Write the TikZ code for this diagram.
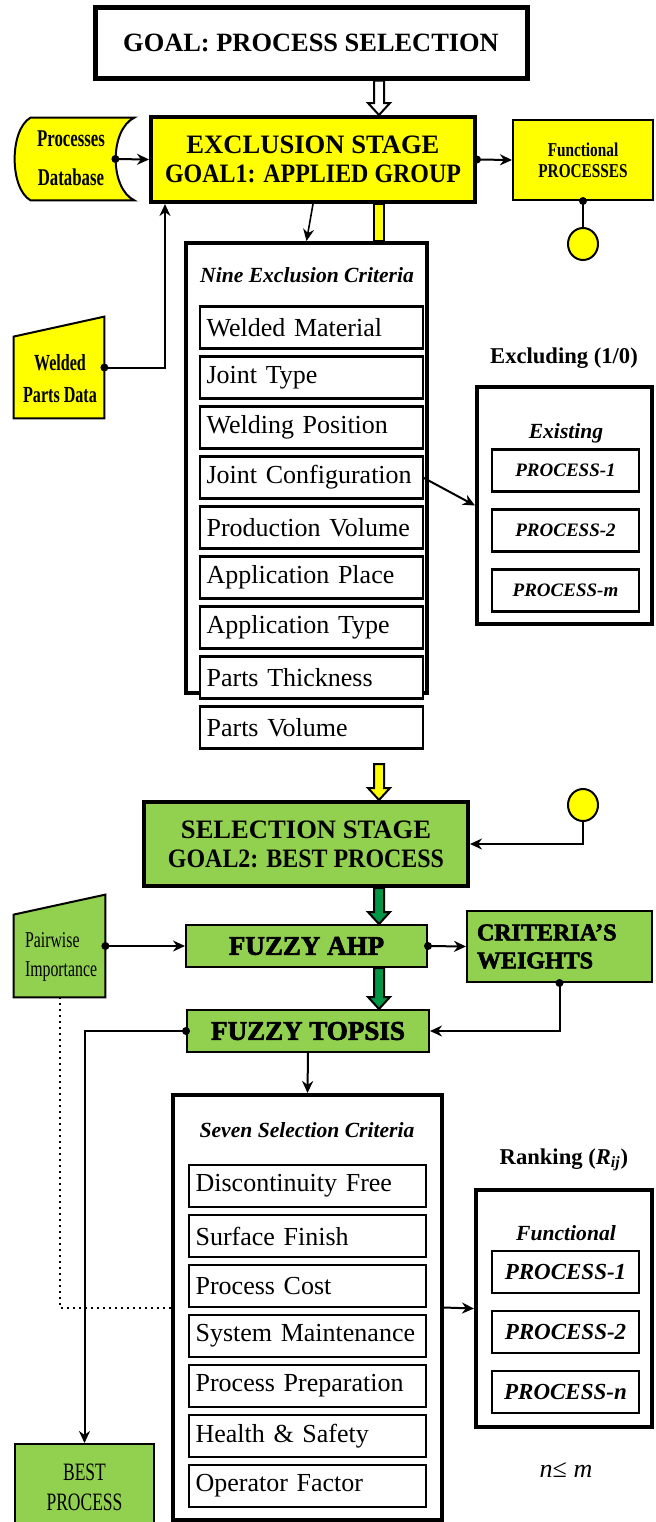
\documentclass[tikz,border=0pt]{standalone}
\usepackage{fontspec}
\setmainfont{Liberation Serif}
\newfontfamily\narrowfont[FakeStretch=0.78]{Liberation Serif}
\newfontfamily\tightfont[FakeStretch=0.7]{Liberation Serif}
\newfontfamily\condfont[FakeStretch=0.9]{Liberation Serif}
\newfontfamily\heavyfont[FakeBold=2.5]{Liberation Serif}
\usetikzlibrary{arrows.meta,positioning,calc,shapes.geometric}
\definecolor{stageYellow}{RGB}{255,255,0}
\definecolor{stageGreen}{RGB}{146,208,80}
\definecolor{arrowGreen}{RGB}{0,150,70}
\tikzset{
  stage/.style={draw,line width=2pt,align=center,inner sep=0pt,
                font=\fontsize{13.3}{14.5}\selectfont\bfseries},
  panel/.style={draw,line width=2pt,inner sep=0pt},
  crit/.style={draw,line width=1.1pt,fill=white,minimum height=21pt,inner sep=3.3pt,
               outer sep=0pt,align=left,text width=#1,font=\fontsize{13}{15}\selectfont},
  crit/.default=104.9pt,
  proc/.style={draw,line width=1.1pt,fill=white,minimum width=73.5pt,minimum height=21pt,
               inner sep=0pt,outer sep=0pt,font=\fontsize{9.5}{11}\selectfont\bfseries\itshape},
  heading/.style={font=\fontsize{10.8}{12}\selectfont\bfseries\itshape},
  sidetext/.style={align=center,font=\narrowfont\fontsize{11.3}{16}\selectfont},
  fuzzy/.style={draw,line width=1pt,fill=stageGreen,minimum height=21pt,inner sep=0pt,
                font=\heavyfont\bfseries\fontsize{13.5}{15}\selectfont},
  link/.style={draw,ellipse,line width=1pt,fill=stageYellow,minimum width=15pt,minimum height=16pt},
  arr/.style={-{Stealth[length=6pt,width=5.5pt]},line width=1pt},
}
\newcommand{\fatarrow}[3]{%
  \draw[line width=1pt,fill=#3] ($(#1)+(-5,0)$) -- ($(#2)+(-5,-12)$) -- ($(#2)+(-11,-12)$)
    -- (#2) -- ($(#2)+(11,-12)$) -- ($(#2)+(5,-12)$) -- ($(#1)+(5,0)$) -- cycle;}

\begin{document}
\begin{tikzpicture}[x=0.5pt,y=-0.5pt]
  \useasboundingbox (0,0) rectangle (655,1522);
  \coordinate (axis) at (379,0);

  % exclusion stage
  \node[stage,line width=2.5pt,minimum width=216pt,minimum height=35.5pt,
        font=\fontsize{13.2}{15}\selectfont\bfseries] (goal) at (311,42.5) {GOAL: PROCESS SELECTION};
  \node[stage,fill=stageYellow,minimum width=162pt,minimum height=42.5pt] (excl) at (313,159.5)
    {EXCLUSION STAGE\\{\condfont\bfseries GOAL1: APPLIED GROUP}};
  \coordinate (g1) at (goal.south -| axis);
  \coordinate (g2) at (excl.north -| axis);
  \fatarrow{g1}{g2}{white}

  \node[minimum width=59.5pt,minimum height=41pt,inner sep=0pt] (db) at (74.5,159) {};
  \draw[fill=stageYellow,line width=1pt] ($(db.north west)+(16,0)$) -- (db.north east)
    .. controls ($(db.north east)+(-25,12)$) and ($(db.south east)+(-25,-12)$) .. (db.south east)
    -- ($(db.south west)+(16,0)$)
    .. controls ($(db.south west)+(-5.3,-12)$) and ($(db.north west)+(-5.3,12)$) .. ($(db.north west)+(16,0)$)
    -- cycle;
  \node[sidetext,font=\tightfont\bfseries\fontsize{12}{19.5}\selectfont] (dbtext) at (71,158)
    {Processes\\Database};
  \coordinate (dbout) at ($(db.east)+(-19,0)$);
  \fill (dbout) circle[radius=2pt];
  \draw[arr] (dbout) -- (excl.west);

  \node[draw,line width=1pt,fill=stageYellow,minimum width=70pt,minimum height=40pt,align=center,
        font=\narrowfont\bfseries\fontsize{9.8}{10.5}\selectfont] (func) at (583,160)
    {Functional\\PROCESSES};
  \fill (excl.east) circle[radius=2pt];
  \draw[arr] (excl.east) -- (func.west);
  \node[link] (link1) at (583,244) {};
  \fill (func.south) circle[radius=2pt];
  \draw[line width=1pt] (func.south) -- (link1.north);

  \node[minimum width=45pt,minimum height=50.5pt,inner sep=0pt] (wpd) at (59,367.5) {};
  \draw[fill=stageYellow,line width=1pt] (wpd.south west) -- ($(wpd.north west)+(0,20)$)
    -- (wpd.north east) -- (wpd.south east) -- cycle;
  \node[sidetext,font=\tightfont\bfseries\fontsize{11.5}{16}\selectfont] (wpdtext) at (60,379)
    {Welded\\Parts Data};
  \fill (wpd.east) circle[radius=2pt];
  \draw[arr] (wpd.east) -| ($(excl.south west)+(16,0)$);

  % nine exclusion criteria
  \node[panel,minimum width=120.5pt,minimum height=225pt] (nine) at (306.5,468) {};
  \draw[line width=0.8pt,fill=stageYellow] ($(excl.south -| axis)+(-5,0)$) rectangle ($(nine.north -| axis)+(5,0)$);
  \draw[arr,line width=0.8pt] (excl.south) -- (nine.north);
  \node[heading] (ninehead) at (307,275) {Nine Exclusion Criteria};
  \node[crit] (c1) at (311.5,327.5) {Welded Material};
  \node[crit,below=4pt of c1] (c2) {Joint Type};
  \node[crit,below=4pt of c2] (c3) {Welding Position};
  \node[crit,below=4pt of c3] (c4) {Joint Configuration};
  \node[crit,below=4pt of c4] (c5) {Production Volume};
  \node[crit,below=4pt of c5] (c6) {Application Place};
  \node[crit,below=4pt of c6] (c7) {Application Type};
  \node[crit,below=4pt of c7] (c8) {Parts Thickness};
  \node[crit,below=4pt of c8] (c9) {Parts Volume};

  \node[font=\fontsize{11.3}{13}\selectfont\bfseries] (exlabel) at (564,358) {Excluding (1/0)};
  \node[panel,minimum width=87.5pt,minimum height=118.5pt] (exist) at (564.5,505.5) {};
  \node[heading] (existhead) at (566,433) {Existing};
  \node[proc] (p1) at (565.5,470.5) {PROCESS-1};
  \node[proc,below=9pt of p1] (p2) {PROCESS-2};
  \node[proc,below=9pt of p2] (pm) {PROCESS-m};
  \draw[arr] (c4.east) -- (exist.west);

  % selection stage
  \node[stage,fill=stageGreen,minimum width=162pt,minimum height=42pt] (sel) at (306,844)
    {SELECTION STAGE\\{\condfont\bfseries GOAL2: BEST PROCESS}};
  \coordinate (yin) at (379,764);
  \coordinate (s0) at (sel.north -| axis);
  \fatarrow{yin}{s0}{stageYellow}
  \node[link] (link2) at (583,805) {};
  \draw[arr] (link2.south) |- (sel.east);

  \node[fuzzy,minimum width=120.5pt] (ahp) at (306.5,946) {FUZZY AHP};
  \node[fuzzy,minimum width=121pt] (topsis) at (308,1031) {FUZZY TOPSIS};
  \coordinate (s1o) at (sel.south -| axis);
  \coordinate (a1i) at (ahp.north -| axis);
  \coordinate (a1o) at (ahp.south -| axis);
  \coordinate (t1i) at (topsis.north -| axis);
  \fatarrow{s1o}{a1i}{arrowGreen}
  \fatarrow{a1o}{t1i}{arrowGreen}

  \node[minimum width=45.5pt,minimum height=51pt,inner sep=0pt] (pw) at (59.5,946) {};
  \draw[fill=stageGreen,line width=1pt] (pw.south west) -- ($(pw.north west)+(0,20)$)
    -- (pw.north east) -- (pw.south east) -- cycle;
  \node[sidetext,align=left,anchor=west,font=\tightfont\fontsize{11.3}{14.5}\selectfont] (pwtext) at (18,957)
    {Pairwise\\Importance};
  \node[draw,line width=1pt,fill=stageGreen,minimum width=92.5pt,minimum height=35.5pt,
        text width=82.5pt,inner sep=5pt,align=left,
        font=\heavyfont\bfseries\fontsize{12}{14}\selectfont] (weights) at (559.5,946.5)
    {CRITERIA’S\\WEIGHTS};

  \fill (pw.east) circle[radius=2pt];
  \draw[arr] (pw.east) -- (ahp.west);
  \fill (ahp.east) circle[radius=2pt];
  \draw[arr] (ahp.east) -- (weights.west);
  \fill (weights.south) circle[radius=2pt];
  \draw[arr] (weights.south) |- (topsis.east);

  % seven selection criteria
  \node[panel,minimum width=134.5pt,minimum height=212.5pt] (seven) at (307.5,1307.5) {};
  \node[heading] (sevenhead) at (307,1130) {Seven Selection Criteria};
  \node[crit=111.9pt] (s1) at (307.5,1186) {Discontinuity Free};
  \node[crit=111.9pt,below=4pt of s1] (s2) {Surface Finish};
  \node[crit=111.9pt,below=4pt of s2] (s3) {Process Cost};
  \node[crit=111.9pt,below=4pt of s3] (s4) {System Maintenance};
  \node[crit=111.9pt,below=4pt of s4] (s5) {Process Preparation};
  \node[crit=111.9pt,below=4pt of s5] (s6) {Health \& Safety};
  \node[crit=111.9pt,below=4pt of s6] (s7) {Operator Factor};
  \draw[arr] (topsis.south) -- (seven.north);

  \node[font=\fontsize{11.3}{13}\selectfont\bfseries] (ranklabel) at (564,1160)
    {Ranking (\textit{R}\textsubscript{\textit{ij}})};
  \node[panel,minimum width=88pt,minimum height=118.5pt] (fun) at (564,1308.5) {};
  \node[heading] (funhead) at (566,1233) {Functional};
  \node[proc,font=\fontsize{11.5}{13}\selectfont\bfseries\itshape] (q1) at (565.5,1272) {PROCESS-1};
  \node[proc,font=\fontsize{11.5}{13}\selectfont\bfseries\itshape,below=9pt of q1] (q2) {PROCESS-2};
  \node[proc,font=\fontsize{11.5}{13}\selectfont\bfseries\itshape,below=9pt of q2] (qn) {PROCESS-n};
  \draw[arr] (seven.east) -- (fun.west);
  \node[font=\fontsize{13}{15}\selectfont] (nlem) at (566,1470) {\textit{n}≤ \textit{m}};

  \node[draw,line width=1pt,fill=stageGreen,minimum width=69.5pt,minimum height=43pt,align=center,
        font=\tightfont\fontsize{12.5}{15}\selectfont] (best) at (84.5,1487) {BEST\\PROCESS};
  \fill (topsis.west) circle[radius=2pt];
  \draw[arr] (topsis.west) -| (best.north);
  \draw[dotted,line width=1pt] (pw.south) |- (seven.west);
\end{tikzpicture}
\end{document}
